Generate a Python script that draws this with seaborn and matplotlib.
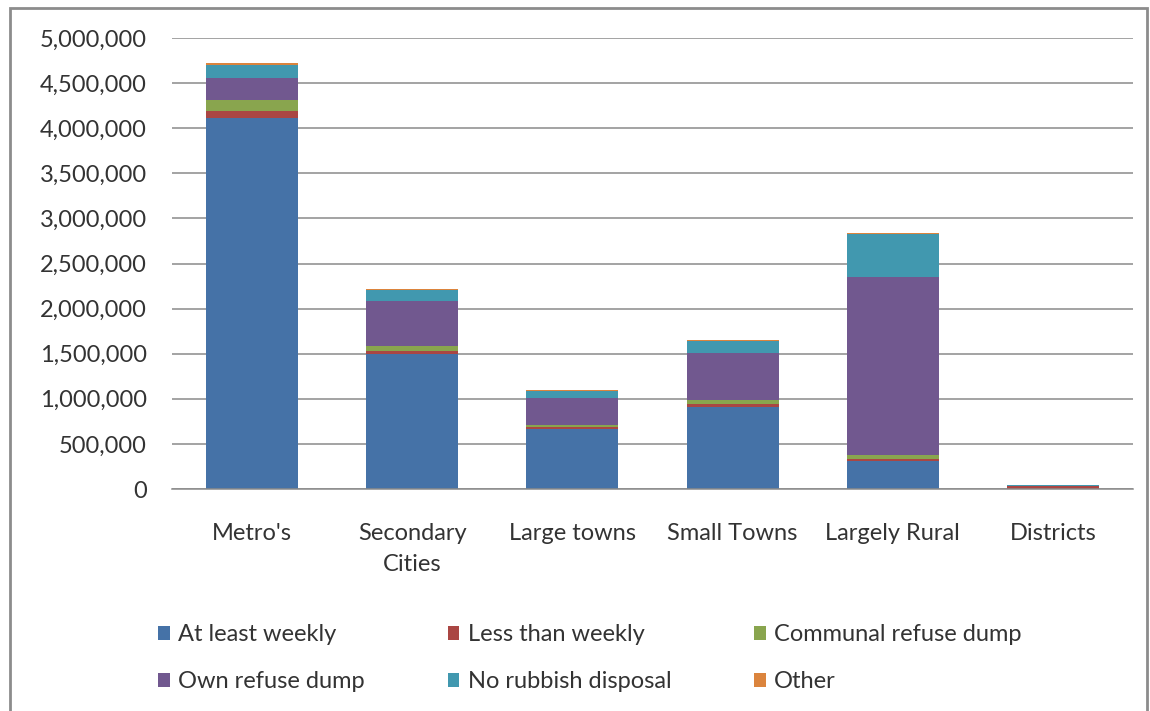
import numpy as np
import pandas as pd
import matplotlib
matplotlib.use("Agg")
import matplotlib.pyplot as plt
from matplotlib.patches import Rectangle, Patch
import matplotlib.ticker as mticker
import seaborn as sns

categories = ["Metro's", "Secondary\nCities", "Large towns", "Small Towns", "Largely Rural", "Districts"]

at_least_weekly = [4110000, 1500000, 660000, 905000, 315000, 2000]
less_than_weekly = [85000, 27000, 28000, 37000, 20000, 30000]
communal_dump = [117000, 55000, 25000, 45000, 38000, 0]
own_dump = [248000, 505000, 300000, 517000, 1982000, 5000]
no_disposal = [140000, 120000, 78000, 140000, 470000, 2000]
other = [20000, 10000, 8000, 10000, 8000, 1000]

series_names = ["At least weekly", "Less than weekly", "Communal refuse dump",
                "Own refuse dump", "No rubbish disposal", "Other"]
series_values = [at_least_weekly, less_than_weekly, communal_dump,
                 own_dump, no_disposal, other]
colors = ["#4572A7", "#AA4643", "#89A54E", "#71588F", "#4198AF", "#DB843D"]

sns.set_theme(style="white")
plt.rcParams["font.family"] = ["Lato", "DejaVu Sans"]

W, H = 1150, 711
FS = 17
fig = plt.figure(figsize=(W / 100, H / 100), dpi=100)
ax = fig.add_axes([172 / W, 1 - 489 / H, (1133 - 172) / W, (489 - 38) / H])

# cumulative tops for stacking
df = pd.DataFrame({name: vals for name, vals in zip(series_names, series_values)})
df["category"] = categories
cum = df[series_names].cumsum(axis=1)

# draw from the top layer down so lower layers cover upper ones
for name, col in reversed(list(zip(series_names, colors))):
    sns.barplot(x=df["category"], y=cum[name], color=col, width=0.575,
                saturation=1, ax=ax, order=categories, linewidth=0)

ax.set_ylim(0, 5000000)
ax.set_xlim(-0.5, 5.5)
ax.yaxis.set_major_locator(mticker.MultipleLocator(500000))
ax.yaxis.set_major_formatter(mticker.FuncFormatter(lambda v, p: f"{int(v):,}"))
ax.grid(axis="y", color="#8a8a8a", linewidth=1.1)
ax.set_axisbelow(True)
for s in ["left", "right", "top"]:
    ax.spines[s].set_visible(False)
ax.spines["bottom"].set_color("#8a8a8a")
ax.spines["bottom"].set_linewidth(1.1)
ax.set_xlabel("")
ax.set_ylabel("")
ax.tick_params(axis="y", length=0, pad=18, labelsize=FS, labelcolor="#333333")
ax.tick_params(axis="x", length=0, pad=24.5, labelsize=FS, labelcolor="#333333")
for lbl in ax.get_xticklabels():
    lbl.set_linespacing(1.6)

# legend laid out row by row
handles = [Patch(facecolor=c, edgecolor="none") for c in colors]
order = [0, 3, 1, 4, 2, 5]
fig.legend([handles[i] for i in order], [series_names[i] for i in order],
           ncol=3, loc="upper left", bbox_to_anchor=(137 / W, 1 - 603 / H),
           frameon=False, fontsize=FS, handlelength=0.5, handleheight=0.5,
           handletextpad=0.35, columnspacing=3.5, labelspacing=1.1,
           labelcolor="#333333")

# chart frame
fig.add_artist(Rectangle((10 / W, -0.1), (1147 - 10) / W, 1.1 - 8 / H,
                         transform=fig.transFigure, fill=False,
                         edgecolor="#8c8c8c", linewidth=2.0))

fig.savefig("out.png", dpi=100, facecolor="white")
